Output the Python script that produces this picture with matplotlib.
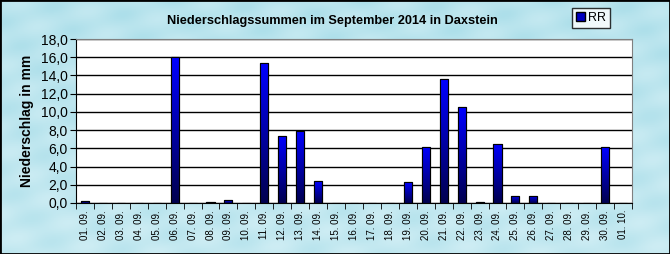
import numpy as np
import matplotlib.pyplot as plt
from matplotlib.patches import Rectangle
from matplotlib.colors import LinearSegmentedColormap

days = ["01. 09.", "02. 09.", "03. 09.", "04. 09.", "05. 09.", "06. 09.", "07. 09.", "08. 09.",
        "09. 09.", "10. 09.", "11. 09.", "12. 09.", "13. 09.", "14. 09.", "15. 09.", "16. 09.",
        "17. 09.", "18. 09.", "19. 09.", "20. 09.", "21. 09.", "22. 09.", "23. 09.", "24. 09.",
        "25. 09.", "26. 09.", "27. 09.", "28. 09.", "29. 09.", "30. 09.", "01. 10."]
rr = [0.2, 0.0, 0.0, 0.0, 0.0, 16.0, 0.0, 0.1, 0.3, 0.0, 15.4, 7.4, 7.9, 2.4, 0.0, 0.0,
      0.0, 0.0, 2.3, 6.2, 13.6, 10.5, 0.1, 6.5, 0.8, 0.8, 0.0, 0.0, 0.0, 6.1, 0.0]
yticks = np.arange(0, 19, 2)

plt.rcParams['font.family'] = ['Liberation Sans', 'DejaVu Sans']

fig = plt.figure(figsize=(6.7, 2.54), dpi=100)

# background: soft light-cyan texture, a stand-in for the water drops
bg = fig.add_axes([0, 0, 1, 1], zorder=-1)
yy, xx = np.mgrid[0:1:120j, 0:1:300j]
tex = 0.55 + 0.12 * np.sin(xx * 55 + yy * 17) * np.cos(yy * 37 - xx * 11) + 0.15 * yy
water = LinearSegmentedColormap.from_list("water", ["#7ecbdc", "#b4e2ec", "#dcf3f8"])
bg.imshow(tex, cmap=water, vmin=0, vmax=1, aspect="auto", extent=[0, 1, 0, 1])
bg.set_axis_off()
fig.patches.append(Rectangle((0, 0), 1, 1, transform=fig.transFigure, fill=False,
                             edgecolor="black", linewidth=2))

ax = fig.add_axes([76 / 670, 51 / 254, 556 / 670, 164 / 254])
ax.set_facecolor("white")
x = np.arange(len(days))
bars = ax.bar(x, rr, width=0.45, color="#0000e0", edgecolor="black", linewidth=0.8, zorder=3)

# gradient fill inside bars (bright blue top, navy bottom)
grad = np.linspace(0, 1, 64).reshape(-1, 1)
gcmap = LinearSegmentedColormap.from_list("bar", ["#000050", "#0000ff"])
for b in bars:
    h = b.get_height()
    if h <= 0:
        continue
    im = ax.imshow(grad, cmap=gcmap, origin="lower", aspect="auto", zorder=3.5,
                   extent=[b.get_x(), b.get_x() + b.get_width(), 0, h])
    im.set_clip_path(b)
    ax.add_patch(Rectangle((b.get_x(), 0), b.get_width(), h, fill=False,
                           edgecolor="black", linewidth=0.8, zorder=4))

ax.set_xlim(-0.5, len(days) - 0.5)
ax.set_ylim(0, 18)
ax.set_yticks(yticks)
ax.set_yticklabels([f"{v:.1f}".replace(".", ",") for v in yticks], fontsize=10)
ax.yaxis.grid(True, color="black", linewidth=1)
ax.set_axisbelow(True)

ax.set_xticks(x)
ax.set_xticklabels(days, rotation=90, fontsize=7)
ax.set_xticks(np.arange(-0.5, len(days)), minor=True)
ax.tick_params(axis="x", which="major", length=0, pad=5)
ax.tick_params(axis="x", which="minor", length=4, color="black")
ax.tick_params(axis="y", length=4, pad=2)

ax.spines["top"].set_color("#808080")
ax.spines["right"].set_color("#808080")
ax.spines["left"].set_color("black")
ax.spines["bottom"].set_color("black")

ax.set_ylabel("Niederschlag in mm", fontsize=10, fontweight="bold", labelpad=5)
fig.text(332 / 670, 1 - 21 / 254, "Niederschlagssummen im September 2014 in Daxstein",
         ha="center", va="center", fontsize=9.2, fontweight="bold")

leg = ax.legend([Rectangle((0, 0), 1, 1, color="#0000c0", ec="black")], ["RR"],
                loc="center", bbox_to_anchor=(591 / 670, 1 - 18 / 254),
                bbox_transform=fig.transFigure, fontsize=9, frameon=True, fancybox=False,
                handlelength=0.7, handleheight=0.7, handletextpad=0.3, borderpad=0.3)
leg.get_frame().set_edgecolor("black")
leg.get_frame().set_linewidth(1)

fig.savefig("out.png", dpi=100)
